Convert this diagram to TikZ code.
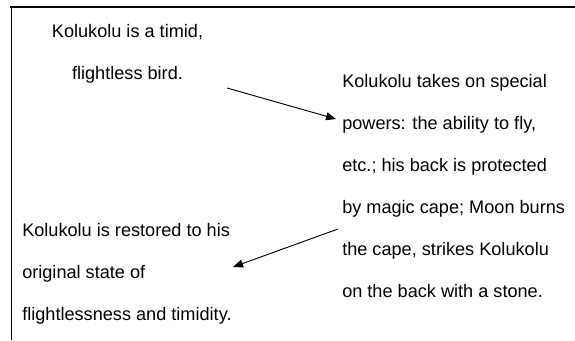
\documentclass[tikz,border=0pt]{standalone}
\usepackage{fontspec}
\setmainfont{Liberation Sans}
\usetikzlibrary{arrows.meta}
\begin{document}
\begin{tikzpicture}[x=0.75pt,y=-0.75pt,
  txt/.style={inner sep=0pt,font=\fontsize{13.6pt}{31.5pt}\selectfont},
  frame/.style={line width=1pt},
  conn/.style={line width=0.7pt,-{Triangle[length=7.5pt,width=6pt]}}]
\useasboundingbox (0,0) rectangle (575,340);
\draw[frame] (10,7) -- (575,7);
\draw[frame] (11.5,7) -- (11.5,340);
% anchor=base refers to the baseline of the last line
\node[txt,align=center,anchor=base] (start) at (127.5,79) {Kolukolu is a timid,\\flightless bird.};
\node[txt,align=left,anchor=base west] (powers) at (342,297) {Kolukolu takes on special\\powers: the ability to fly,\\etc.; his back is protected\\by magic cape; Moon burns\\the cape, strikes Kolukolu\\on the back with a stone.};
\node[txt,align=left,anchor=base west] (restored) at (22,320) {Kolukolu is restored to his\\original state of\\flightlessness and timidity.};
\coordinate (a1s) at (227,88);
\coordinate (a1e) at (336,119);
\coordinate (a2s) at (338,229);
\coordinate (a2e) at (233,267);
\draw[conn] (a1s) -- (a1e);
\draw[conn] (a2s) -- (a2e);
\end{tikzpicture}
\end{document}
